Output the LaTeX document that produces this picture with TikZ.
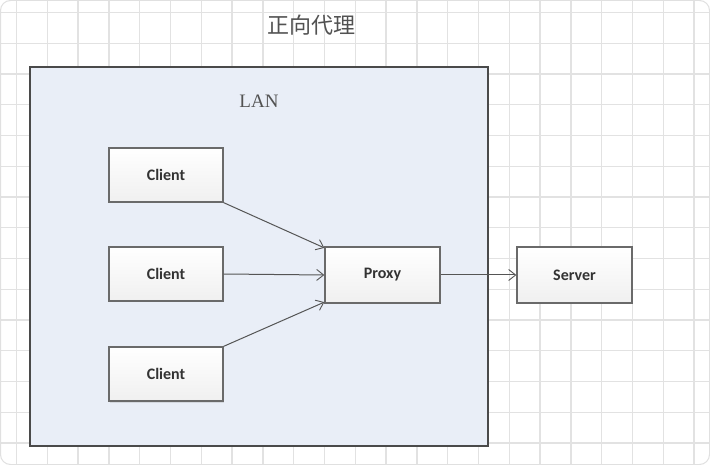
\documentclass[tikz,border=0pt]{standalone}
\usepackage{fontspec}
\setmainfont{Liberation Serif}
\newfontfamily\cjk{Noto Sans CJK SC}
\newfontfamily\boxfont{Carlito}
\usetikzlibrary{arrows.meta,shadows}
\definecolor{gridc}{HTML}{E2E2E2}
\definecolor{lanfill}{HTML}{E9EEF7}
\definecolor{lanedge}{HTML}{4A4A4A}
\definecolor{boxedge}{HTML}{6A6A6A}
\definecolor{linec}{HTML}{555555}
\definecolor{txt}{HTML}{333333}
\tikzset{
  boxnode/.style={draw=boxedge, line width=1.3pt, top color=white, bottom color=black!6,
    minimum width=114pt, minimum height=54pt, inner sep=0pt,
    font=\boxfont\bfseries\fontsize{16}{18}\selectfont, text=txt,
    drop shadow={shadow xshift=1pt, shadow yshift=-1.5pt, opacity=0.2}},
  conn/.style={draw=linec, line width=1pt, -{Straight Barb[length=7pt,width=11pt,line width=0.9pt]}}
}
\begin{document}
\begin{tikzpicture}[x=1pt,y=-1pt]
\useasboundingbox (0,0) rectangle (710,465);
\fill[white] (0,0) rectangle (710,465);
% grid
\foreach \i in {0,...,22} {
  \draw[gridc, line width=1.3pt] ({16.5+30.8*\i},0) -- ({16.5+30.8*\i},465);
}
\foreach \j in {0,...,14} {
  \draw[gridc, line width=1.3pt] (0,{12.5+30.75*\j}) -- (710,{12.5+30.75*\j});
}
\draw[black!12, line width=1pt, rounded corners=10pt] (0.5,0.5) rectangle (709.5,464.5);
% title
\node (title) at (311,25) {\cjk\fontsize{22}{25}\selectfont\color{txt!85}正向代理};
% LAN box
\node[draw=lanedge, fill=lanfill, line width=1.8pt, minimum width=458pt, minimum height=379pt, inner sep=0pt] (lan) at (259,256.5) {};
\node (lanlabel) at (259,101) {\fontsize{19}{22}\selectfont\color{txt!85}LAN};
% boxes
\node[boxnode] (c1) at (166,175) {Client};
\node[boxnode] (c2) at (166,274) {Client};
\node[boxnode] (c3) at (166,374) {Client};
\node[boxnode, minimum width=115pt, minimum height=56pt] (proxy) at (382.5,275) {Proxy};
\node[boxnode, minimum width=115pt, minimum height=56pt] (server) at (574.5,275) {Server};
% connectors
\draw[conn] (c1.south east) -- (proxy.155);
\draw[conn] (c2.east) -- (proxy.west);
\draw[conn] (c3.north east) -- (proxy.205);
\draw[conn] (proxy.east) -- (server.west);
\end{tikzpicture}
\end{document}
